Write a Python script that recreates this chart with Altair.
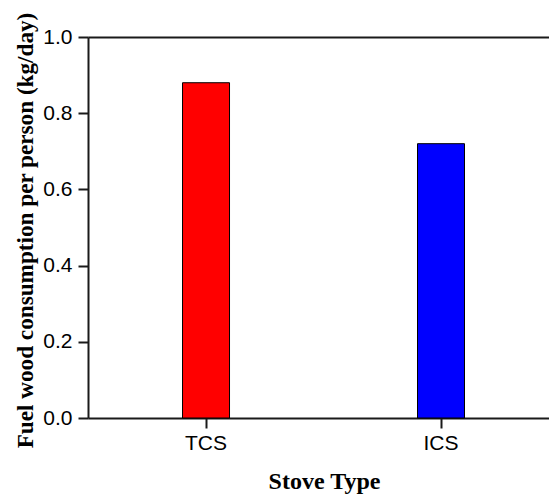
import altair as alt
import pandas as pd

stoves = ["TCS", "ICS"]
consumption = [0.88, 0.72]
colors = ["#FF0000", "#0000FF"]
y_ticks = [0.0, 0.1, 0.2, 0.3, 0.4, 0.5, 0.6, 0.7, 0.8, 0.9, 1.0]

df = pd.DataFrame({"stove": stoves, "value": consumption})

xscale = alt.Scale(domain=stoves, paddingInner=0.8, paddingOuter=0.3809, align=0.528)
yscale = alt.Scale(domain=[0, 1], nice=False, zero=True)

axis_common = dict(
    domainColor="#1a1a1a", domainWidth=2, tickColor="#1a1a1a", tickWidth=2,
    labelFont="Liberation Sans", labelFontSize=21, labelColor="black",
    titleFont="Liberation Serif", titleFontWeight="bold",
    titleColor="black", grid=False,
)

bars = alt.Chart(df).mark_bar(stroke="black", strokeWidth=1).encode(
    x=alt.X("stove:N", scale=xscale, sort=stoves,
            axis=alt.Axis(title="Stove Type", labelAngle=0, tickSize=10,
                          labelPadding=4, titleX=236, titleY=70, titleFontSize=24,
                          titleBaseline="alphabetic", titleAlign="center",
                          **axis_common)),
    y=alt.Y("value:Q", scale=yscale,
            axis=alt.Axis(title="Fuel wood consumption per person (kg/day)",
                          values=y_ticks,
                          labelExpr="round(datum.value*10) % 2 == 0 ? format(datum.value, '.1f') : ''",
                          tickSize={"condition": {"test": "round(datum.value*10) % 2 == 0", "value": 10}, "value": 5},
                          labelPadding=6, titleX=-56, titleY=193, titleAngle=270,
                          titleFontSize=23.2,
                          titleAlign="center", titleBaseline="alphabetic",
                          **axis_common)),
    color=alt.Color("stove:N", scale=alt.Scale(domain=stoves, range=colors), legend=None),
)

frame = alt.Chart(df).mark_bar(opacity=0).encode(
    x=alt.X("stove:N", scale=xscale, sort=stoves,
            axis=alt.Axis(orient="top", title=None, labels=False, ticks=False,
                          domain=True, domainColor="#1a1a1a", domainWidth=2, grid=False)),
    y=alt.Y("value:Q", scale=yscale),
)

chart = alt.layer(bars, frame).resolve_axis(x="independent").properties(
    width=461, height=381,
    autosize=alt.AutoSizeParams(type="none"),
    padding={"left": 80, "top": 29, "right": 0, "bottom": 76},
).configure_view(stroke=None).configure(background="white")

chart.save("out.html", embed_options={"renderer": "svg", "actions": False})
